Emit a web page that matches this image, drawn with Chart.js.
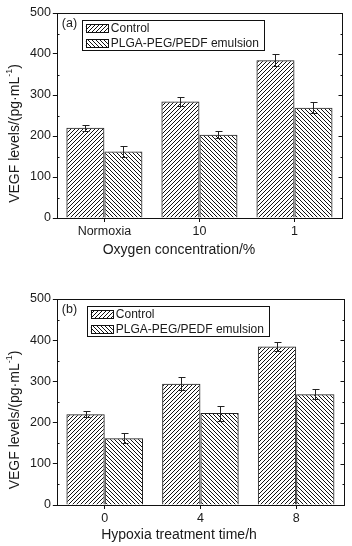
<!DOCTYPE html>
<html>
<head>
<meta charset="utf-8">
<script src="https://cdn.jsdelivr.net/npm/chart.js@4.4.1/dist/chart.umd.min.js"></script>
<style>
  html, body { margin: 0; padding: 0; background: #fff; }
  .box { width: 352px; height: 273px; }
</style>
</head>
<body>
<div class="box"><canvas id="chartA" width="352" height="273"></canvas></div>
<div class="box"><canvas id="chartB" width="352" height="273"></canvas></div>
<script>
// Panel (a): oxygen concentration
const oxygenLabels = ['Normoxia', '10', '1'];
const controlOxygen = [220, 284, 385];
const controlOxygenErr = [7, 12, 15];
const pedfOxygen = [162, 203, 269];
const pedfOxygenErr = [14, 8, 14];

// Panel (b): hypoxia treatment time
const hypoxiaLabels = ['0', '4', '8'];
const controlHypoxia = [220, 294, 385];
const controlHypoxiaErr = [7, 16, 11];
const pedfHypoxia = [162, 223, 269];
const pedfHypoxiaErr = [12, 18, 12];

const yTicks = [0, 100, 200, 300, 400, 500];
const seriesNames = ['Control', 'PLGA-PEG/PEDF emulsion'];

const FONT = "'Liberation Sans', Arial, sans-serif";
const INK = '#1a1a1a';

// diagonal hatch fill, dir 1 = "/" , dir -1 = "\"
function hatch(dir) {
    const s = 4;
    const c = document.createElement('canvas');
    c.width = s; c.height = s;
    const g = c.getContext('2d');
    g.strokeStyle = '#111';
    g.lineWidth = 1;
    g.beginPath();
    if (dir > 0) {
        g.moveTo(-1, s + 1); g.lineTo(s + 1, -1);
        g.moveTo(-1, 1); g.lineTo(1, -1);
        g.moveTo(s - 1, s + 1); g.lineTo(s + 1, s - 1);
    } else {
        g.moveTo(-1, -1); g.lineTo(s + 1, s + 1);
        g.moveTo(-1, s - 1); g.lineTo(1, s + 1);
        g.moveTo(s - 1, -1); g.lineTo(s + 1, 1);
    }
    g.stroke();
    return g.createPattern(c, 'repeat');
}

// error bars with caps, read from dataset.errors
const errorBars = {
    id: 'errorBars',
    afterDatasetsDraw(chart) {
        const ctx = chart.ctx;
        const y = chart.scales.y;
        ctx.save();
        ctx.strokeStyle = '#222';
        ctx.lineWidth = 1;
        chart.data.datasets.forEach((ds, i) => {
            const meta = chart.getDatasetMeta(i);
            meta.data.forEach((bar, j) => {
                const v = ds.data[j], e = ds.errors[j];
                const x = Math.round(bar.x) + 0.5;
                const t = Math.round(y.getPixelForValue(v + e)) + 0.5;
                const b = Math.round(y.getPixelForValue(v - e)) + 0.5;
                ctx.beginPath();
                ctx.moveTo(x, t); ctx.lineTo(x, b);
                ctx.moveTo(x - 3, t); ctx.lineTo(x + 4, t);
                ctx.moveTo(x - 3, b); ctx.lineTo(x + 4, b);
                ctx.stroke();
            });
        });
        ctx.restore();
    }
};

// frame, minor ticks, axis titles, panel tag and boxed legend
const frame = {
    id: 'frame',
    afterDraw(chart, args, opts) {
        const ctx = chart.ctx;
        const a = chart.chartArea;
        const y = chart.scales.y;
        ctx.save();
        ctx.strokeStyle = '#111';
        ctx.lineWidth = 1;
        const L = Math.round(a.left) + 0.5, R = Math.round(a.right) + 0.5;
        const T = Math.round(a.top) + 0.5, B = Math.round(a.bottom) + 0.5;
        ctx.strokeRect(L, T, R - L, B - T);
        ctx.beginPath();
        for (let v = 50; v < 500; v += 50) {
            const py = Math.round(y.getPixelForValue(v)) + 0.5;
            const major = v % 100 === 0;
            ctx.moveTo(R, py); ctx.lineTo(R - (major ? 4 : 2), py);
            if (!major) { ctx.moveTo(L, py); ctx.lineTo(L + 2, py); }
        }
        ctx.stroke();

        ctx.fillStyle = INK;
        ctx.textBaseline = 'middle';

        // x title
        ctx.font = '14px ' + FONT;
        ctx.textAlign = 'center';
        ctx.fillText(opts.xTitle, opts.xTitleX, a.bottom + opts.xTitleDy);

        // y title, rotated, with superscript -1
        ctx.save();
        ctx.translate(15, (a.top + a.bottom) / 2 + 18);
        ctx.rotate(-Math.PI / 2);
        const main = 'VEGF levels/(pg\u00b7mL', sup = '-1', tail = ')';
        ctx.font = '14px ' + FONT;
        const w1 = ctx.measureText(main).width, w3 = ctx.measureText(tail).width;
        ctx.font = '9px ' + FONT;
        const w2 = ctx.measureText(sup).width;
        let x0 = -(w1 + w2 + w3) / 2;
        ctx.textAlign = 'left';
        ctx.font = '14px ' + FONT;
        ctx.fillText(main, x0, 0);
        ctx.font = '9px ' + FONT;
        ctx.fillText(sup, x0 + w1, -5);
        ctx.font = '14px ' + FONT;
        ctx.fillText(tail, x0 + w1 + w2, 0);
        ctx.restore();

        // panel tag
        ctx.font = '12.5px ' + FONT;
        ctx.textAlign = 'left';
        ctx.fillText(opts.tag, a.left + 5, a.top + 11);

        // legend box
        ctx.font = '12px ' + FONT;
        const lx = a.left + opts.legendX, ly = a.top + opts.legendY;
        ctx.strokeRect(Math.round(lx) + 0.5, Math.round(ly) + 0.5, 182, 30);
        chart.data.datasets.forEach((ds, i) => {
            const ry = ly + 8 + i * 15;
            ctx.fillStyle = ds.backgroundColor;
            ctx.fillRect(lx + 4, ry - 4, 22, 8);
            ctx.strokeRect(Math.round(lx + 4) + 0.5, Math.round(ry - 4) + 0.5, 22, 8);
            ctx.fillStyle = INK;
            ctx.fillText(ds.label, lx + 29, ry + 0.5);
        });
        ctx.restore();
    }
};

function makeChart(id, labels, ctrl, ctrlErr, pedf, pedfErr, xTitle, opts) {
    const ctx = document.getElementById(id).getContext('2d');
    return new Chart(ctx, {
        type: 'bar',
        data: {
            labels: labels,
            datasets: [
                {
                    label: seriesNames[0],
                    data: ctrl,
                    errors: ctrlErr,
                    backgroundColor: hatch(1),
                    borderColor: '#222',
                    borderWidth: 1
                },
                {
                    label: seriesNames[1],
                    data: pedf,
                    errors: pedfErr,
                    backgroundColor: hatch(-1),
                    borderColor: '#222',
                    borderWidth: 1
                }
            ]
        },
        options: {
            responsive: false,
            animation: false,
            layout: { padding: opts.padding },
            datasets: { bar: { categoryPercentage: 0.8, barPercentage: 1.0 } },
            plugins: {
                legend: { display: false },
                tooltip: { enabled: false },
                frame: {
                    tag: opts.tag, legendX: opts.legendX, legendY: opts.legendY,
                    xTitle: xTitle, xTitleX: 179, xTitleDy: opts.xTitleDy
                }
            },
            scales: {
                x: {
                    grid: { display: true, offset: false, drawOnChartArea: false, drawTicks: true, tickLength: 4, color: '#111' },
                    border: { display: false },
                    ticks: { color: INK, font: { family: FONT, size: 12.5 }, padding: 2 }
                },
                y: {
                    min: 0,
                    max: 500,
                    afterBuildTicks: (axis) => { axis.ticks = yTicks.map(v => ({ value: v })); },
                    grid: { display: true, drawOnChartArea: false, drawTicks: true, tickLength: 4, color: '#111' },
                    border: { display: false },
                    ticks: { color: INK, font: { family: FONT, size: 12.5 }, padding: 2 }
                }
            }
        },
        plugins: [errorBars, frame]
    });
}

makeChart('chartA', oxygenLabels, controlOxygen, controlOxygenErr, pedfOxygen, pedfOxygenErr,
    'Oxygen concentration/%',
    { tag: '(a)', legendX: 25, legendY: 7, xTitleDy: 32, padding: { top: 13, right: 10, bottom: 32, left: 28 } });

makeChart('chartB', hypoxiaLabels, controlHypoxia, controlHypoxiaErr, pedfHypoxia, pedfHypoxiaErr,
    'Hypoxia treatment time/h',
    { tag: '(b)', legendX: 30, legendY: 7, xTitleDy: 30, padding: { top: 26, right: 8, bottom: 18, left: 28 } });
</script>
</body>
</html>
